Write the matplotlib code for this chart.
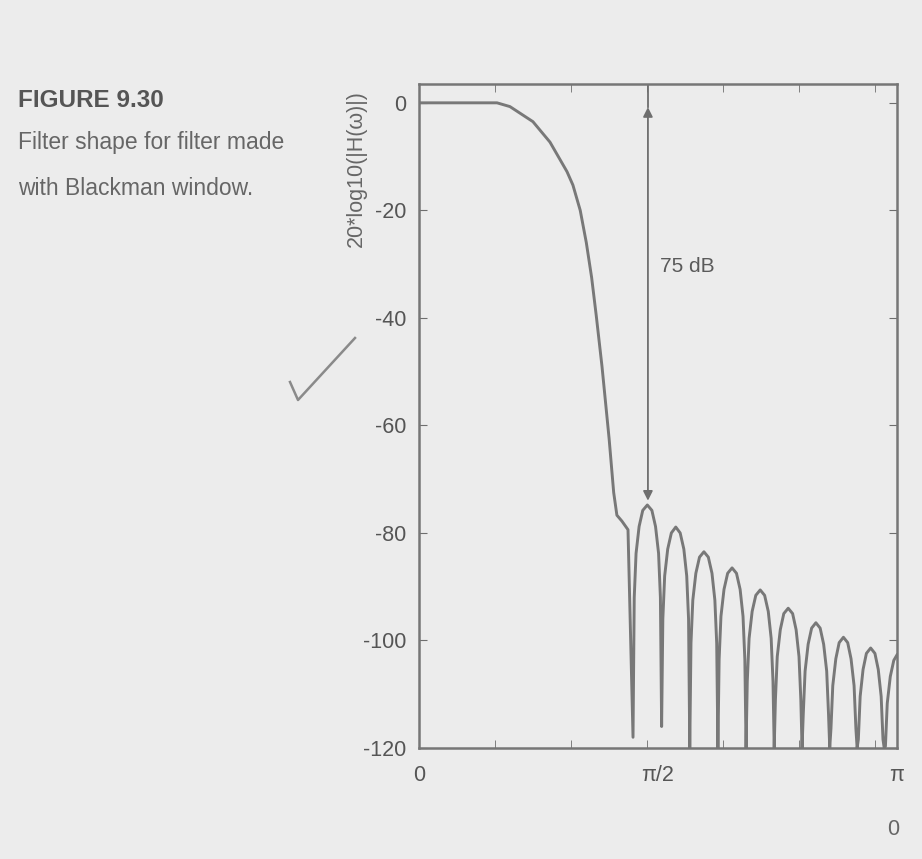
import numpy as np
import matplotlib
matplotlib.use('Agg')
import matplotlib.pyplot as plt
from matplotlib.lines import Line2D

# Blackman-window lowpass: magnitude response (rad, dB)
omega = [0.000, 0.300, 0.513, 0.598, 0.749, 0.861, 0.973, 1.012, 1.060, 1.100,
         1.135, 1.165, 1.203, 1.250, 1.280, 1.301, 1.334, 1.374,
         1.407, 1.415, 1.427, 1.447, 1.471, 1.501, 1.531, 1.555, 1.575, 1.587,
         1.595, 1.603, 1.615, 1.635, 1.659, 1.688, 1.717, 1.741, 1.760, 1.772,
         1.780, 1.788, 1.800, 1.820, 1.844, 1.873, 1.902, 1.926, 1.945, 1.957,
         1.965, 1.973, 1.985, 2.005, 2.029, 2.058, 2.087, 2.111, 2.130, 2.142,
         2.150, 2.158, 2.170, 2.190, 2.214, 2.243, 2.272, 2.296, 2.315, 2.327,
         2.335, 2.343, 2.355, 2.375, 2.398, 2.427, 2.456, 2.479, 2.498, 2.510,
         2.518, 2.526, 2.538, 2.558, 2.581, 2.609, 2.637, 2.660, 2.680, 2.692,
         2.700, 2.708, 2.720, 2.740, 2.762, 2.790, 2.818, 2.840, 2.860, 2.872,
         2.880, 2.888, 2.900, 2.919, 2.941, 2.969, 2.997, 3.019, 3.038, 3.050,
         3.058, 3.066, 3.078, 3.098, 3.121, 3.1416]
mag_db = [0.0, 0.0, 0.0, -0.7, -3.5, -7.3, -12.8, -15.3, -20.0, -26.0,
          -32.5, -39.5, -49.0, -62.5, -72.5, -76.7, -77.8, -79.4,
          -118.0, -92.0, -83.8, -78.8, -75.8, -74.8, -75.8, -78.8, -83.8, -92.0,
          -116.0, -96.0, -88.0, -83.0, -80.0, -78.9, -80.0, -83.0, -88.0, -96.0,
          -120.0, -100.5, -92.5, -87.5, -84.5, -83.5, -84.5, -87.5, -92.5, -100.5,
          -120.0, -103.5, -95.5, -90.5, -87.5, -86.5, -87.5, -90.5, -95.5, -103.5,
          -120.0, -107.6, -99.6, -94.6, -91.6, -90.6, -91.6, -94.6, -99.6, -107.6,
          -120.0, -111.0, -103.0, -98.0, -95.0, -94.0, -95.0, -98.0, -103.0, -111.0,
          -120.0, -113.7, -105.7, -100.7, -97.7, -96.7, -97.7, -100.7, -105.7, -113.7,
          -120.0, -116.4, -108.4, -103.4, -100.4, -99.4, -100.4, -103.4, -108.4, -116.4,
          -120.0, -118.4, -110.4, -105.4, -102.4, -101.4, -102.4, -105.4, -110.4, -118.4,
          -120.0, -119.7, -111.7, -106.7, -103.7, -102.7]

y_ticks = [0, -20, -40, -60, -80, -100, -120]
x_minor = [0.0, 0.5, 1.0, 1.5, 2.0, 2.5, 3.0]
x_labels = ['0', 'π/2', 'π']

# stopband attenuation marker
att_x = 1.505
att_top = -0.8
att_bot = -74.0

bg = '#ececec'
ink = '#6e6e6e'
sans = ['Liberation Sans', 'DejaVu Sans']

fig = plt.figure(figsize=(9.22, 8.59), dpi=100, facecolor=bg)
ax = fig.add_axes([0.4544, 0.1292, 0.5184, 0.773])
ax.set_facecolor(bg)

ax.plot(omega, mag_db, color='#787878', lw=2.1)

# 75 dB arrow
ax.plot([att_x, att_x], [3.5, att_top], color=ink, lw=1.3)
ax.annotate('', xy=(att_x, att_top), xytext=(att_x, att_bot),
            arrowprops=dict(arrowstyle='<|-|>', color=ink, lw=1.3,
                            mutation_scale=14, shrinkA=0, shrinkB=0))
ax.text(1.585, -31.5, '75 dB', fontsize=15, color='#5a5a5a', family=sans)

ax.set_xlim(0, np.pi)
ax.set_ylim(-120, 3.5)
ax.set_yticks(y_ticks)
ax.set_yticklabels([str(v) for v in y_ticks])
ax.set_xticks([0, np.pi / 2, np.pi])
ax.set_xticklabels(x_labels)
ax.set_xticks(x_minor, minor=True)
ax.tick_params(axis='x', which='major', length=0, pad=12)
ax.tick_params(axis='x', which='minor', direction='in', length=6, top=True,
               color=ink)
ax.tick_params(axis='y', direction='in', length=6, right=True, color=ink,
               pad=9)
for lab in ax.get_xticklabels() + ax.get_yticklabels():
    lab.set_family(sans)
    lab.set_fontsize(15.5)
    lab.set_color('#555555')
for sp in ax.spines.values():
    sp.set_color('#767676')
    sp.set_linewidth(1.8)

fig.text(0.386, 0.804, '20*log10(|H(ω)|)', rotation=90, fontsize=15.5,
         color='#666666', family=sans, ha='center', va='center')

# caption
fig.text(0.02, 0.883, 'FIGURE 9.30', fontsize=17.5, weight='bold',
         color='#555555', family=sans, va='center')
fig.text(0.02, 0.834, 'Filter shape for filter made', fontsize=16.5,
         color='#666666', family=sans, va='center')
fig.text(0.02, 0.781, 'with Blackman window.', fontsize=16.5,
         color='#666666', family=sans, va='center')

# stray "0" printed below the axis on the page
fig.text(0.969, 0.034, '0', fontsize=15.5, color='#666666', family=sans,
         ha='center', va='center')

# pencil tick mark on the page
fig.add_artist(Line2D([290 / 922, 298 / 922, 355 / 922],
                      [1 - 382 / 859, 1 - 400 / 859, 1 - 338 / 859],
                      transform=fig.transFigure, color='#8a8a8a', lw=1.8))

fig.savefig('out.png', dpi=100, facecolor=bg)
